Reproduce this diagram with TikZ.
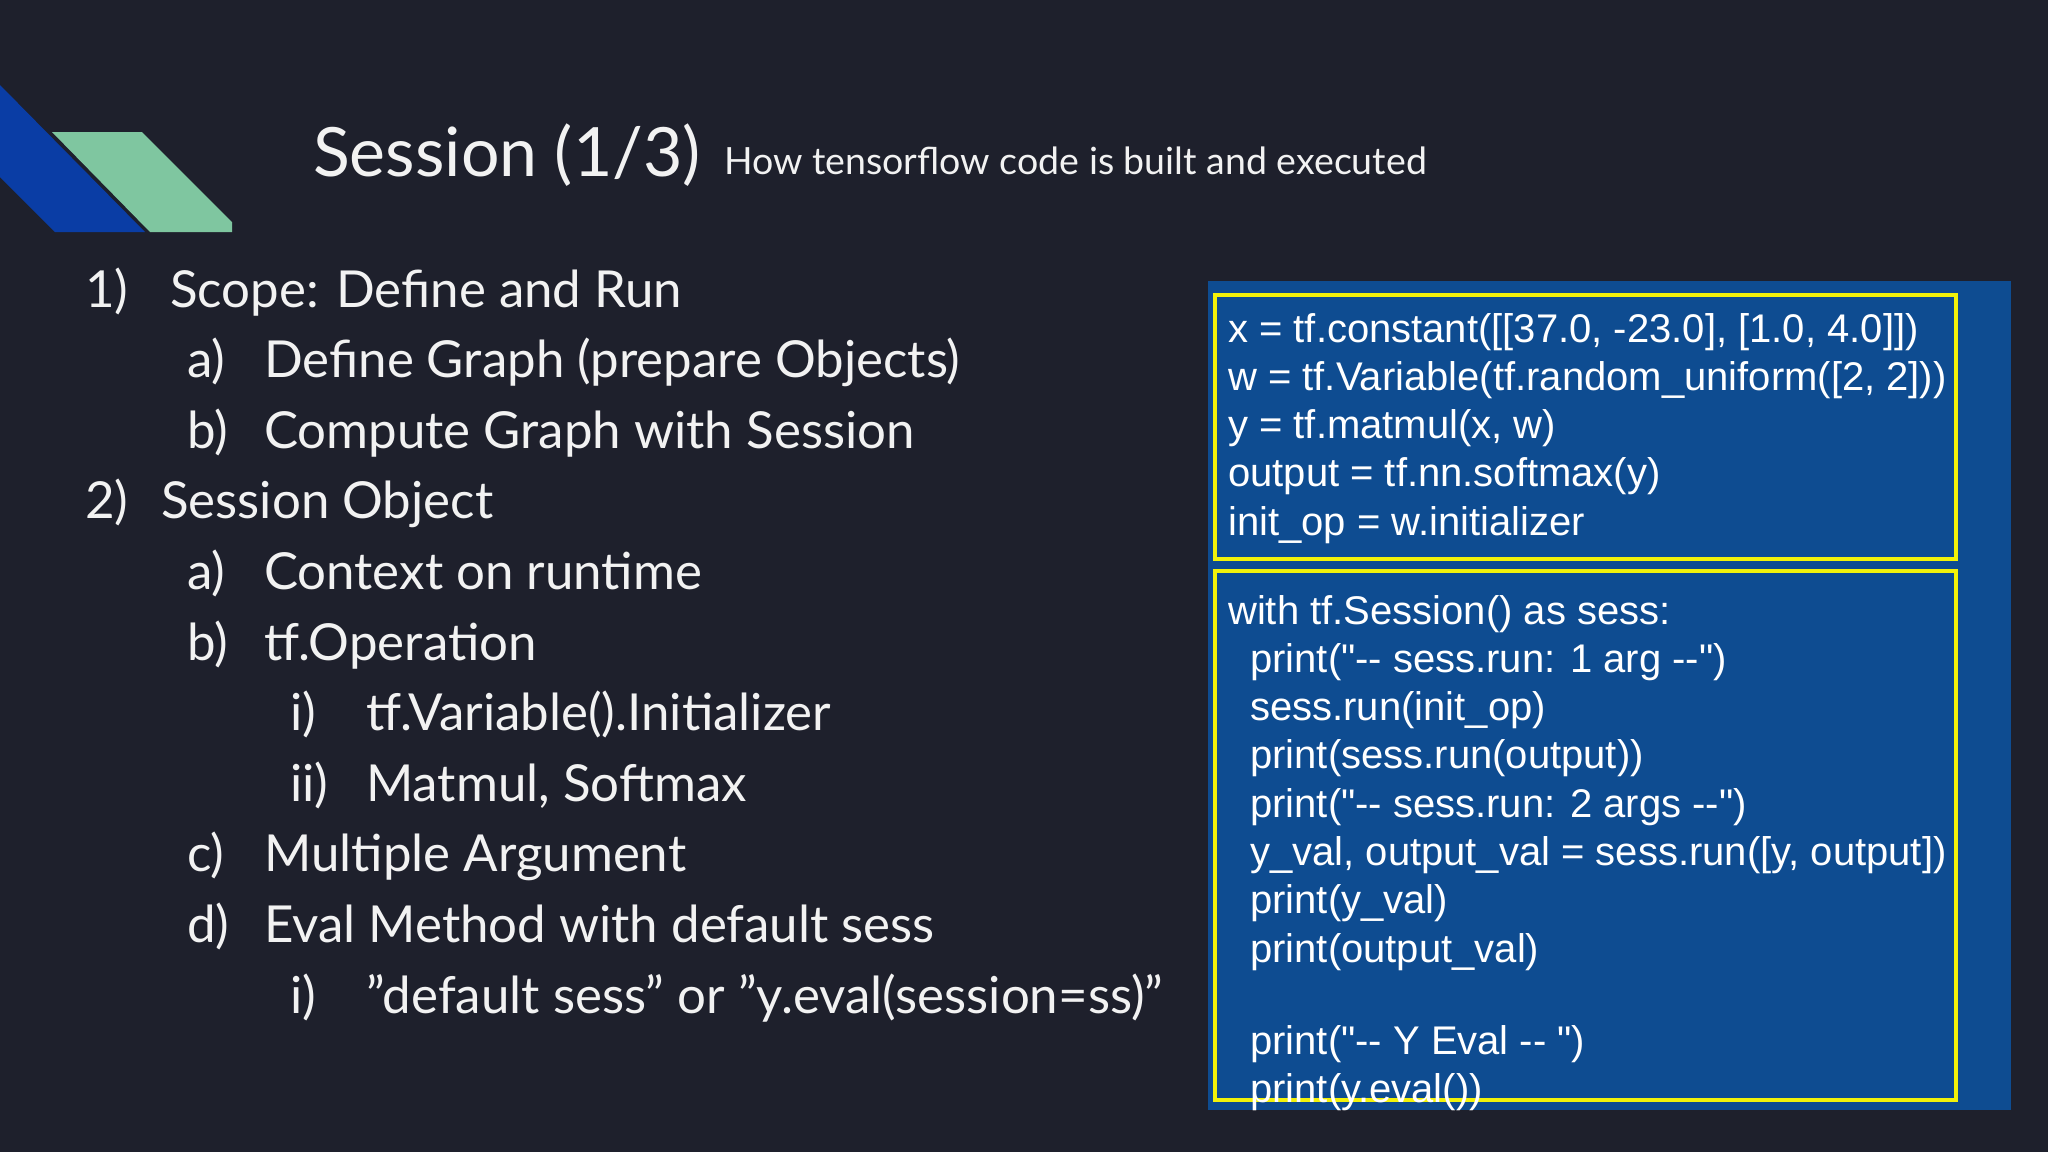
\documentclass[tikz,border=0pt]{standalone}
\usepackage{fontspec}
\setmainfont{Lato}
\newfontfamily\codefont{Liberation Sans}
\definecolor{bg}{HTML}{1E202C}
\definecolor{panel}{HTML}{0E4C91}
\definecolor{dblue}{HTML}{0A3DA5}
\definecolor{mgreen}{HTML}{7FC6A0}
\definecolor{ylw}{HTML}{F2F20A}
\definecolor{txt}{HTML}{F2F2F2}
\begin{document}
\begin{tikzpicture}[x=1pt,y=-1pt,
 lst/.style={anchor=base west,inner sep=0pt,text=txt,font=\fontsize{51}{60}\selectfont},
 cd/.style={anchor=base west,inner sep=0pt,text=white,font=\codefont\fontsize{40}{44}\selectfont},
 ybox/.style={draw=ylw,line width=4pt}]
\fill[bg] (0,0) rectangle (2048,1152);
\useasboundingbox (0,0) rectangle (2048,1152);
\fill[dblue] (0,85) -- (145,232) -- (55,232) -- (0,177) -- cycle;
\fill[mgreen] (52,132) -- (142,132) -- (232,222) -- (232,232) -- (150,232) -- cycle;
\node[anchor=base west,inner sep=0pt,text=txt,font=\fontsize{68}{80}\selectfont] (title) at (313,176) {Session (1/3)};
\node[anchor=base west,inner sep=0pt,text=txt,font=\fontsize{37.5}{40}\selectfont] (sub) at (724,174) {How tensorflow code is built and executed};
% list
\def\B{307}\def\S{70.6}
\node[lst] (n1) at (85,\B) {1)}; \node[lst] (t1) at (170,\B) {Scope: Define and Run};
\node[lst] (n1a) at (187,\B+\S) {a)}; \node[lst] (t1a) at (264,\B+\S) {Define Graph (prepare Objects)};
\node[lst] (n1b) at (187,\B+2*\S) {b)}; \node[lst] (t1b) at (264,\B+2*\S) {Compute Graph with Session};
\node[lst] (n2) at (85,\B+3*\S) {2)}; \node[lst] (t2) at (161,\B+3*\S) {Session Object};
\node[lst] (n2a) at (187,\B+4*\S) {a)}; \node[lst] (t2a) at (264,\B+4*\S) {Context on runtime};
\node[lst] (n2b) at (187,\B+5*\S) {b)}; \node[lst] (t2b) at (264,\B+5*\S) {tf.Operation};
\node[lst] (n2bi) at (290,\B+6*\S) {i)}; \node[lst] (t2bi) at (366,\B+6*\S) {tf.Variable().Initializer};
\node[lst] (n2bii) at (290,\B+7*\S) {ii)}; \node[lst] (t2bii) at (366,\B+7*\S) {Matmul, Softmax};
\node[lst] (n2c) at (187,\B+8*\S) {c)}; \node[lst] (t2c) at (264,\B+8*\S) {Multiple Argument};
\node[lst] (n2d) at (187,\B+9*\S) {d)}; \node[lst] (t2d) at (264,\B+9*\S) {Eval Method with default sess};
\node[lst] (n2di) at (290,\B+10*\S) {i)}; \node[lst] (t2di) at (366,\B+10*\S) {\char"22 default sess\char"22{} or \char"22 y.eval(session=ss)\char"22};
% code panel
\fill[panel] (1208,281) rectangle (2011,1110);
\draw[ybox] (1215,295) rectangle (1956,559);
\draw[ybox] (1215,571) rectangle (1956,1100);
\def\C{342}\def\L{48.3}
\node[cd] (c1) at (1228,\C) {x = tf.constant([[37.0, -23.0], [1.0, 4.0]])};
\node[cd] (c2) at (1228,\C+\L) {w = tf.Variable(tf.random\_uniform([2, 2]))};
\node[cd] (c3) at (1228,\C+2*\L) {y = tf.matmul(x, w)};
\node[cd] (c4) at (1228,\C+3*\L) {output = tf.nn.softmax(y)};
\node[cd] (c5) at (1228,\C+4*\L) {init\_op = w.initializer};
\def\D{624}
\node[cd] (d1) at (1228,\D) {with tf.Session() as sess:};
\node[cd] (d2) at (1250,\D+\L) {print("-- sess.run: 1 arg --")};
\node[cd] (d3) at (1250,\D+2*\L) {sess.run(init\_op)};
\node[cd] (d4) at (1250,\D+3*\L) {print(sess.run(output))};
\node[cd] (d5) at (1250,\D+4*\L) {print("-- sess.run: 2 args --")};
\node[cd] (d6) at (1250,\D+5*\L) {y\_val, output\_val = sess.run([y, output])};
\node[cd] (d7) at (1250,\D+6*\L) {print(y\_val)};
\node[cd] (d8) at (1250,\D+7*\L) {print(output\_val)};
\node[cd] (d9) at (1250,1054) {print("-- Y Eval -- ")};
\node[cd] (d10) at (1250,1102) {print(y.eval())};
\end{tikzpicture}
\end{document}
